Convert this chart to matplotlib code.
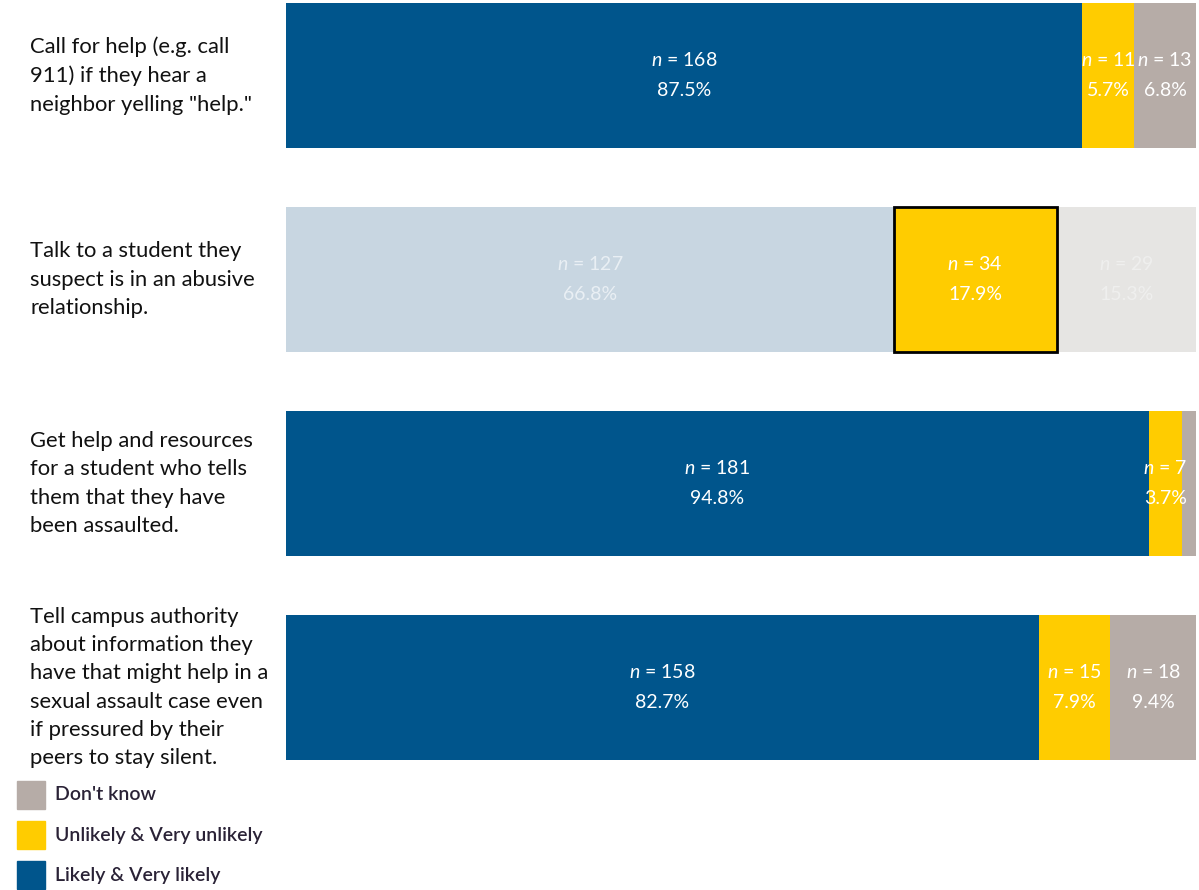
import matplotlib
matplotlib.use("Agg")
import matplotlib.pyplot as plt
from matplotlib.patches import Rectangle

plt.rcParams['font.family'] = ['Lato', 'DejaVu Sans']
plt.rcParams['mathtext.fontset'] = 'custom'
plt.rcParams['mathtext.it'] = 'Lato:italic'
plt.rcParams['mathtext.rm'] = 'Lato'

categories = [
    'Call for help (e.g. call\n911) if they hear a\nneighbor yelling "help."',
    'Talk to a student they\nsuspect is in an abusive\nrelationship.',
    'Get help and resources\nfor a student who tells\nthem that they have\nbeen assaulted.',
    'Tell campus authority\nabout information they\nhave that might help in a\nsexual assault case even\nif pressured by their\npeers to stay silent.',
]
series = ['Likely & Very likely', 'Unlikely & Very unlikely', "Don't know"]
counts = [
    [168, 11, 13],
    [127, 34, 29],
    [181, 7, 3],
    [158, 15, 18],
]
percents = [
    [87.5, 5.7, 6.8],
    [66.8, 17.9, 15.3],
    [94.8, 3.7, 1.5],
    [82.7, 7.9, 9.4],
]
show_label = [
    [True, True, True],
    [True, True, True],
    [True, True, False],
    [True, True, True],
]
highlight_row = 1
highlight_series = 1

colors = ['#00558C', '#FFCC00', '#B6ACA7']
faded_colors = ['#C8D6E1', '#FFCC00', '#E6E5E3']
faded_text = ['#E9EFF4', '#FFFFFF', '#EFEFEE']

W, H = 1199, 890
fig = plt.figure(figsize=(W / 100, H / 100), dpi=100)

# bar region in pixels
x0, x1 = 286, 1196
ax = fig.add_axes([x0 / W, 0, (x1 - x0) / W, 1])
c0, step = 75.5, 204.0
ax.set_xlim(0, 100)
ax.set_ylim(3 + (H - (c0 + 3 * step)) / step, -c0 / step)
ax.axis('off')

bar_h = 0.71
for i, (cnt, pct) in enumerate(zip(counts, percents)):
    left = 0.0
    for j in range(3):
        if i == highlight_row:
            fc = faded_colors[j]
            tc = faded_text[j]
        else:
            fc = colors[j]
            tc = 'white'
        is_hl = (i == highlight_row and j == highlight_series)
        ax.barh(i, pct[j], left=left, height=bar_h, color=fc,
                edgecolor='black' if is_hl else 'none',
                linewidth=2 if is_hl else 0, zorder=3 if is_hl else 2)
        if show_label[i][j]:
            xc = left + pct[j] / 2
            ax.text(xc, i - 0.074, r'$\it{n}$' + f' = {cnt[j]}', ha='center', va='center',
                    fontsize=14, color=tc, zorder=4)
            ax.text(xc, i + 0.074, f'{pct[j]:.1f}%', ha='center', va='center',
                    fontsize=14, color=tc, zorder=4)
        left += pct[j]

# category labels to the left of the bars
for i, cat in enumerate(categories):
    ypx = c0 + i * step
    fig.text(30 / W, 1 - ypx / H, cat, ha='left', va='center', fontsize=15.8,
             color='#111111', linespacing=1.52)

# legend
legend_items = [("Don't know", colors[2], 795), (series[1], colors[1], 835), (series[0], colors[0], 875)]
for label, col, yc in legend_items:
    fig.add_artist(Rectangle((17 / W, 1 - (yc + 14) / H), 28 / W, 28 / H,
                             transform=fig.transFigure, color=col))
    fig.text(55 / W, 1 - yc / H, label, ha='left', va='center', fontsize=14,
             color='#2a2236', fontweight='semibold')

fig.savefig('out.png', dpi=100, facecolor='white')
